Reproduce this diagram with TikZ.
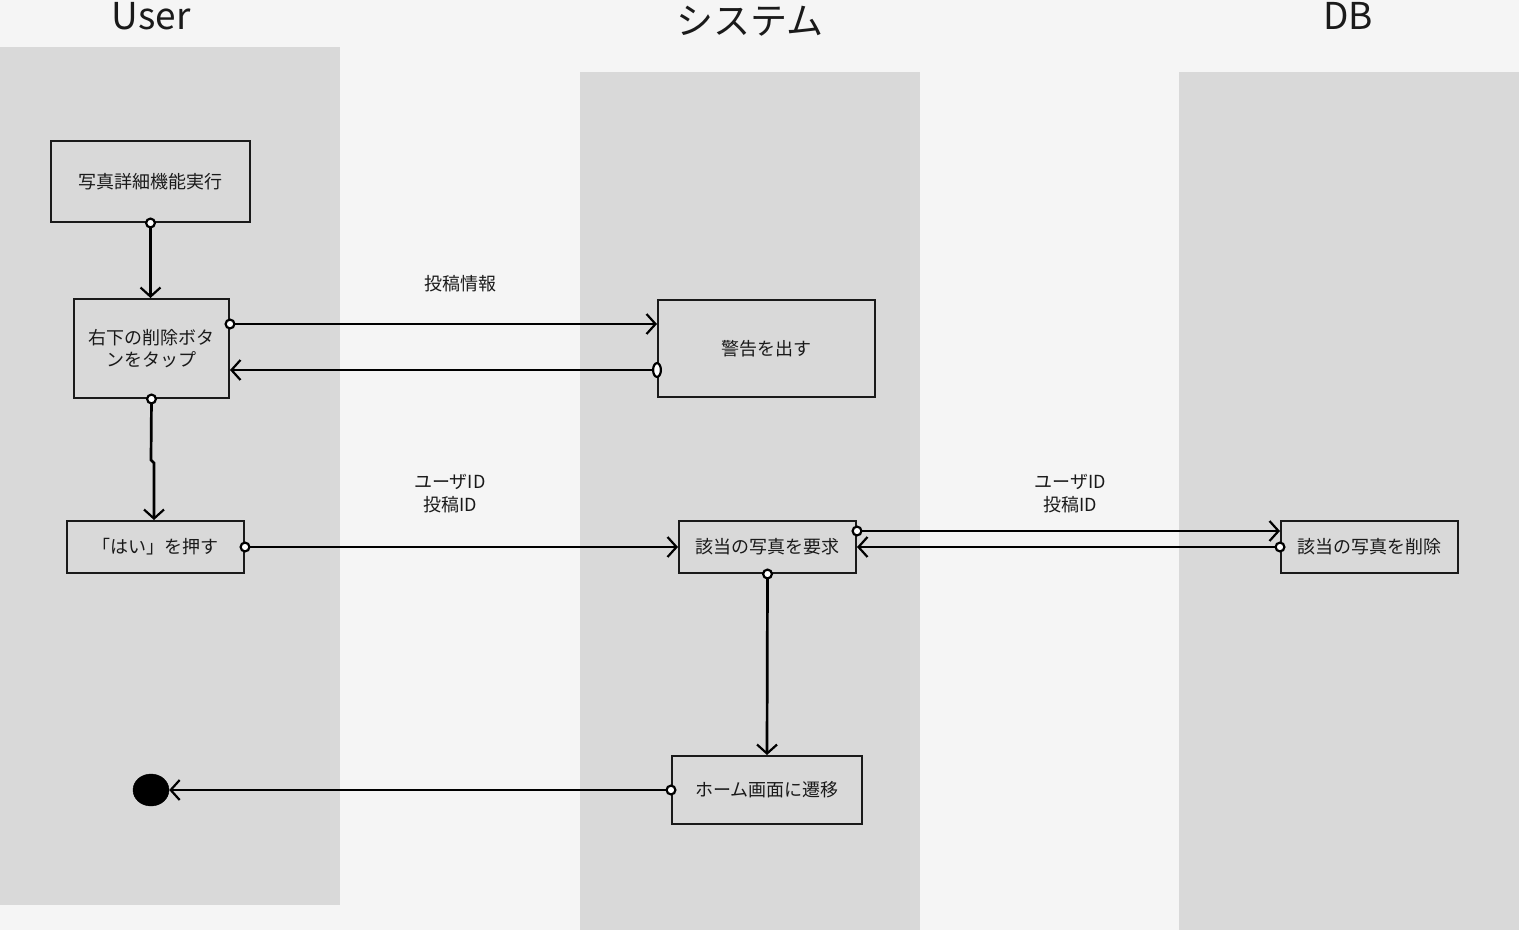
\documentclass[tikz,border=0pt]{standalone}
\usepackage{fontspec}
\newfontfamily\jp{Noto Sans CJK JP}
\usetikzlibrary{arrows.meta,shapes.geometric}
\definecolor{bg}{HTML}{F5F5F5}
\definecolor{lane}{HTML}{D9D9D9}
\definecolor{ink}{HTML}{1A1A1A}
\tikzset{
  box/.style={draw=ink, line width=2pt, fill=lane, inner sep=0pt, align=center, font=\jp\fontsize{18}{22}\selectfont, text=ink},
  conn/.style={draw=black, line width=2.7pt, -{Straight Barb[length=9pt,width=20pt,line width=2.2pt]}},
  cstart/.style={shorten <=-5.5pt, {Circle[open,length=11pt,width=11pt,fill=white,line width=2.2pt]}-{Straight Barb[length=9pt,width=20pt,line width=2.2pt]}},
  ostart/.style={shorten <=-5pt, {Ellipse[open,length=10pt,width=16pt,fill=white,line width=2.2pt]}-{Straight Barb[length=9pt,width=20pt,line width=2.2pt]}},
  lbl/.style={font=\jp\fontsize{18}{23}\selectfont, text=ink, align=center},
  title/.style={font=\jp\fontsize{37}{40}\selectfont, text=ink, anchor=base, inner sep=0pt}
}
\begin{document}
\begin{tikzpicture}[x=1pt,y=-1pt]
\useasboundingbox (0,0) rectangle (1519,930);
\fill[bg] (0,0) rectangle (1519,930);
% lanes
\fill[lane] (0,47) rectangle (340,905);
\fill[lane] (580,72) rectangle (920,930);
\fill[lane] (1179,72) rectangle (1519,930);
% titles
\node[title] (tUser) at (151,29) {User};
\node[title] (tSys) at (750,34) {システム};
\node[title] (tDB) at (1348,29) {DB};
% nodes
\node[box, minimum width=199pt, minimum height=81pt] (n1) at (150.5,181.5) {写真詳細機能実行};
\node[box, minimum width=155pt, minimum height=99pt] (n2) at (151.5,348.5) {右下の削除ボタ\\ンをタップ};
\node[box, minimum width=177pt, minimum height=52pt] (n3) at (155.5,547) {「はい」を押す};
\node[box, minimum width=217pt, minimum height=97pt] (n4) at (766.5,348.5) {警告を出す};
\node[box, minimum width=177pt, minimum height=52pt] (n5) at (767.5,547) {該当の写真を要求};
\node[box, minimum width=177pt, minimum height=52pt] (n6) at (1369.5,547) {該当の写真を削除};
\node[box, minimum width=190pt, minimum height=68pt] (n7) at (767,790) {ホーム画面に遷移};
\node[ellipse, fill=black, draw=black, minimum width=36pt, minimum height=32pt, inner sep=0pt] (end) at (151,790) {};
% connectors
\draw[conn, cstart] (n1.south) -- (n1.south |- n2.north);
\draw[conn, cstart] (n2.east |- 0,324) -- (n4.west |- 0,324);
\draw[conn, ostart] (n4.west |- 0,370) -- (n2.east |- 0,370);
\coordinate (j1) at (151,460);
\coordinate (j2) at (154,463);
\draw[conn, cstart] (n2.south) -- (j1) -- (j2) -- (j2 |- n3.north);
\draw[conn, cstart] (n3.east) -- (n5.west);
\draw[conn, cstart] (n5.east |- 0,531) -- (n6.west |- 0,531);
\draw[conn, cstart] (n6.west) -- (n5.east);
\draw[conn, cstart] (n5.south) -- (n7.north);
\draw[conn, cstart] (n7.west) -- (end.east);
% labels
\node[lbl] (l1) at (460,284) {投稿情報};
\node[lbl] (l2) at (450,494) {ユーザID\\投稿ID};
\node[lbl] (l3) at (1070,494) {ユーザID\\投稿ID};
\end{tikzpicture}
\end{document}
